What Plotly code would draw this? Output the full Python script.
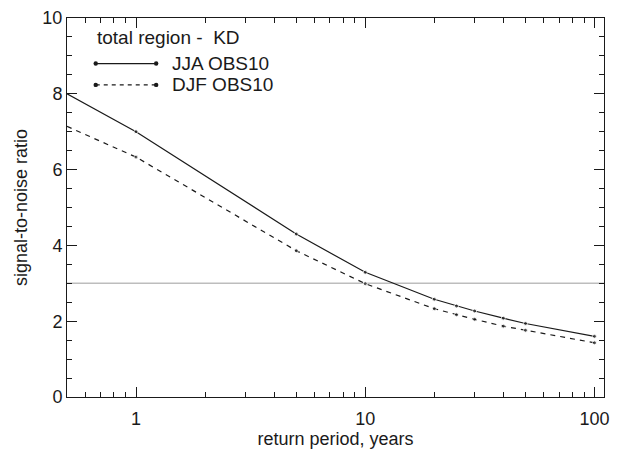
import plotly.graph_objects as go

# return periods (years) and signal-to-noise ratios
return_period = [0.5, 1, 5, 10, 20, 25, 30, 40, 50, 100]
snr_jja = [8.0, 7.0, 4.30, 3.29, 2.58, 2.40, 2.27, 2.08, 1.94, 1.60]
snr_djf = [7.14, 6.33, 3.86, 2.99, 2.33, 2.17, 2.05, 1.87, 1.76, 1.43]
threshold = 3.0

legend_title = "total region -  KD"
series_names = ["JJA OBS10", "DJF OBS10"]
x_tick_vals = [1, 10, 100]
x_tick_text = ["1", "10", "100"]

W, H = 617, 451
M = dict(l=67, r=8, t=10, b=50)
FONT = "Liberation Sans, Arial, sans-serif"
INK = "#1a1a1a"

pw = W - M["l"] - M["r"]
ph = H - M["t"] - M["b"]


def px(x):
    return (x - M["l"]) / pw


def py(y):
    return (H - M["b"] - y) / ph


fig = go.Figure()

# marker hidden on the first point, which sits on the left axis
sizes = [0] + [4] * (len(return_period) - 1)

fig.add_trace(go.Scatter(
    x=return_period, y=snr_jja, mode="lines+markers", name=series_names[0],
    line=dict(color=INK, width=1.2), marker=dict(color=INK, size=sizes),
    showlegend=False))
fig.add_trace(go.Scatter(
    x=return_period, y=snr_djf, mode="lines+markers", name=series_names[1],
    line=dict(color=INK, width=1.2, dash="5px,5px"), marker=dict(color=INK, size=sizes),
    showlegend=False))

shapes = [dict(type="line", xref="paper", x0=0, x1=1, yref="y", y0=threshold, y1=threshold,
               line=dict(color="#bdbdbd", width=1.6), layer="below")]

# hand-drawn key: a line segment with a dot at each end
key_rows = [(57, "solid"), (79, "4px,4px")]
for (yy, dash), name in zip(key_rows, series_names):
    shapes.append(dict(type="line", xref="paper", yref="paper",
                       x0=px(96), x1=px(157), y0=py(yy), y1=py(yy),
                       line=dict(color=INK, width=1.2, dash=dash)))
    for xx in (96, 157):
        shapes.append(dict(type="circle", xref="paper", yref="paper",
                           xsizemode="pixel", ysizemode="pixel",
                           xanchor=px(xx), yanchor=py(yy),
                           x0=-2.2, x1=2.2, y0=-2.2, y1=2.2,
                           fillcolor=INK, line=dict(width=0)))

annotations = [dict(text=legend_title, xref="paper", yref="paper", x=px(95), y=py(30),
                    xanchor="left", yanchor="middle", showarrow=False,
                    font=dict(family=FONT, size=19, color=INK))]
for (yy, _), name in zip(key_rows, series_names):
    annotations.append(dict(text=name, xref="paper", yref="paper", x=px(171), y=py(yy),
                            xanchor="left", yanchor="middle", showarrow=False,
                            font=dict(family=FONT, size=19, color=INK)))

axis_common = dict(showline=True, linecolor=INK, linewidth=1, mirror="allticks",
                   ticks="inside", tickcolor=INK, tickwidth=1, ticklen=10,
                   showgrid=False, zeroline=False,
                   tickfont=dict(family=FONT, size=18, color=INK),
                   title_font=dict(family=FONT, size=18, color=INK))

fig.update_layout(
    width=W, height=H, margin=M,
    paper_bgcolor="white", plot_bgcolor="white",
    shapes=shapes, annotations=annotations,
    xaxis=dict(type="log", range=[-0.30103, 2.0414],
               tickvals=x_tick_vals, ticktext=x_tick_text, ticklabelstandoff=5,
               minor=dict(ticks="inside", ticklen=5, tickcolor=INK, tickwidth=1,
                          tickvals=[0.6, 0.7, 0.8, 0.9, 2, 3, 4, 5, 6, 7, 8, 9,
                                    20, 30, 40, 50, 60, 70, 80, 90], showgrid=False),
               title=dict(text="return period, years", standoff=2),
               **axis_common),
    yaxis=dict(range=[0, 10], dtick=2, tick0=0,
               minor=dict(ticks="inside", ticklen=5, tickcolor=INK, tickwidth=1,
                          dtick=0.5, showgrid=False),
               title=dict(text="signal-to-noise ratio", standoff=10),
               **axis_common),
)

fig.write_html("out.html")
